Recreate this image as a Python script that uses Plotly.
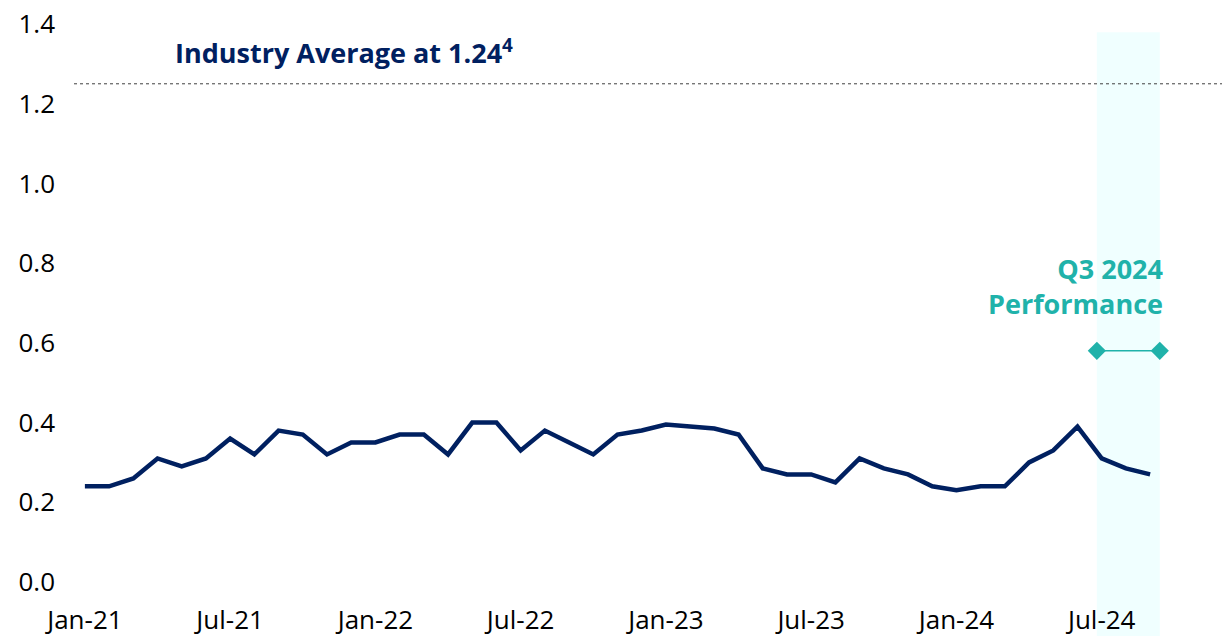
import pandas as pd
import plotly.graph_objects as go

# monthly ratio, Jan-21 .. Sep-24
months = list(pd.date_range("2021-01-01", periods=45, freq="MS").strftime("%b-%y"))
ratio = [
    0.24, 0.24, 0.26, 0.31, 0.29, 0.31, 0.36, 0.32, 0.38, 0.37, 0.32, 0.35,
    0.35, 0.37, 0.37, 0.32, 0.40, 0.40, 0.33, 0.38, 0.35, 0.32, 0.37, 0.38,
    0.395, 0.39, 0.385, 0.37, 0.285, 0.27, 0.27, 0.25, 0.31, 0.285, 0.27, 0.24,
    0.23, 0.24, 0.24, 0.30, 0.33, 0.39, 0.31, 0.285, 0.27,
]
industry_avg = 1.25
q3_start, q3_end = 41.8, 44.4   # Q3 2024 band (month index)
q3_marker_y = 0.58

y_ticks = [0.0, 0.2, 0.4, 0.6, 0.8, 1.0, 1.2, 1.4]
x_ticks = [m for m in months if m.startswith(("Jan", "Jul"))]

NAVY = "#002060"
TEAL = "#20B2AA"
FONT = "Open Sans"

x_idx = list(range(len(months)))

fig = go.Figure()

# Q3 2024 highlight band
fig.add_shape(
    type="rect", xref="x", yref="paper",
    x0=q3_start, x1=q3_end, y0=-0.12, y1=0.985,
    fillcolor="#F0FFFF", line_width=0, layer="below",
)

# industry average reference line
fig.add_shape(
    type="line", xref="paper", yref="y",
    x0=0, x1=1, y0=industry_avg, y1=industry_avg,
    line=dict(color="#404040", width=1, dash="dot"),
)

fig.add_trace(go.Scatter(
    x=x_idx, y=ratio, mode="lines",
    line=dict(color=NAVY, width=4.5),
    hoverinfo="skip", showlegend=False,
))

fig.add_trace(go.Scatter(
    x=[q3_start, q3_end], y=[q3_marker_y, q3_marker_y],
    mode="lines+markers",
    line=dict(color=TEAL, width=1.5),
    marker=dict(symbol="diamond", size=14, color=TEAL),
    hoverinfo="skip", showlegend=False,
))

fig.add_annotation(
    x=10.7, y=1.33, text="Industry Average at 1.24<sup>4</sup>",
    showarrow=False, font=dict(family=FONT, size=27, color=NAVY, weight="bold"),
)
fig.add_annotation(
    x=44.6, y=0.743, xanchor="right", align="right",
    text="Q3 2024<br>Performance", showarrow=False,
    font=dict(family=FONT, size=27, color=TEAL, weight="bold"),
)

fig.update_layout(
    width=1222, height=628,
    margin=dict(l=66, r=0, t=16, b=54),
    plot_bgcolor="white", paper_bgcolor="white",
    font=dict(family=FONT, size=26, color="black"),
    xaxis=dict(
        range=[-0.45, 47.3], showgrid=False, zeroline=False, showline=False,
        tickvals=[months.index(m) for m in x_ticks], ticktext=x_ticks,
        ticks="", ticklabelstandoff=20, ticklabeloverflow="allow",
        automargin=False,
    ),
    yaxis=dict(
        range=[0, 1.4], showgrid=False, zeroline=False, showline=False,
        tickvals=y_ticks, tickformat=".1f", ticks="", ticklabelstandoff=18,
        ticklabeloverflow="allow", automargin=False,
    ),
)

fig.write_html("out.html")
